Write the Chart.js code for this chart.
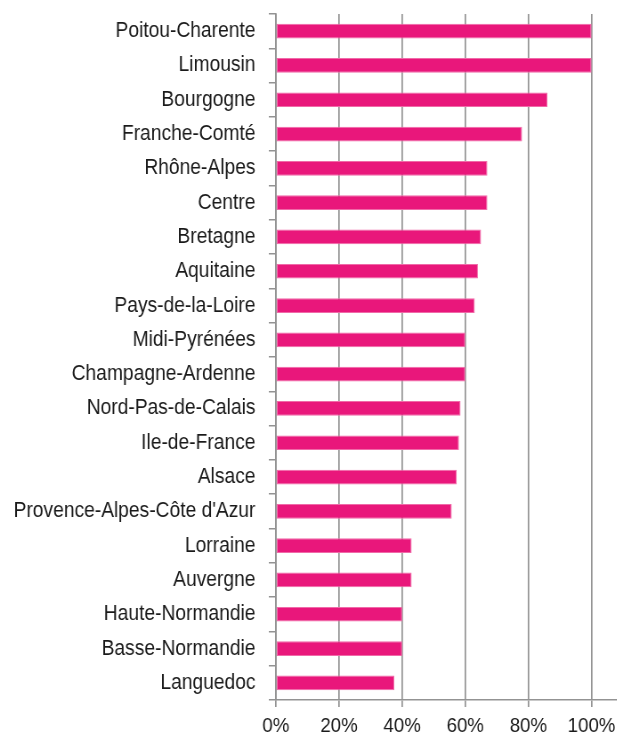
<!DOCTYPE html>
<html lang="fr">
<head>
    <meta charset="UTF-8">
    <title>Régions</title>
    <script src="https://cdn.jsdelivr.net/npm/chart.js"></script>
    <style>
        html, body {
            margin: 0;
            padding: 0;
            background: #fff;
            overflow: hidden;
        }
        #wrap {
            width: 617px;
            height: 737px;
            overflow: hidden;
        }
        /* the source chart was stretched vertically, so the canvas is drawn wider and squeezed back */
        #regionChart {
            transform: scaleX(0.89);
            transform-origin: 0 0;
        }
    </style>
</head>
<body>
    <div id="wrap">
        <canvas id="regionChart" width="693" height="737"></canvas>
    </div>

    <script>
        const regions = ['Poitou-Charente', 'Limousin', 'Bourgogne', 'Franche-Comté', 'Rhône-Alpes',
            'Centre', 'Bretagne', 'Aquitaine', 'Pays-de-la-Loire', 'Midi-Pyrénées',
            'Champagne-Ardenne', 'Nord-Pas-de-Calais', 'Ile-de-France', 'Alsace',
            "Provence-Alpes-Côte d'Azur", 'Lorraine', 'Auvergne', 'Haute-Normandie',
            'Basse-Normandie', 'Languedoc'];
        const shares = [100, 100, 86, 78, 67, 67, 65, 64, 63, 60, 60, 58.5, 58, 57.3, 55.7, 43, 43, 40, 40, 37.5];
        const xTicks = [0, 20, 40, 60, 80, 100];

        const gridGrey = '#939393';

        const ctx = document.getElementById('regionChart').getContext('2d');
        new Chart(ctx, {
            type: 'bar',
            data: {
                labels: regions,
                datasets: [{
                    data: shares,
                    backgroundColor: '#E9177B',
                    borderColor: '#F06AA8',
                    borderWidth: 1,
                    borderSkipped: false,
                    barPercentage: 0.43,
                    categoryPercentage: 1
                }]
            },
            options: {
                indexAxis: 'y',
                responsive: false,
                animation: false,
                layout: { padding: { top: 14, right: 0, bottom: 0, left: 0 } },
                plugins: {
                    legend: { display: false },
                    tooltip: { enabled: false }
                },
                scales: {
                    x: {
                        min: 0,
                        max: 108,
                        afterBuildTicks: (scale) => {
                            scale.ticks = xTicks.map(v => ({ value: v }));
                        },
                        afterFit: (scale) => {
                            scale.height = 37;
                            scale.paddingLeft = 0;
                            scale.paddingRight = 0;
                        },
                        grid: {
                            color: gridGrey,
                            lineWidth: 1.7,
                            tickLength: 7
                        },
                        border: { color: gridGrey, width: 1.5 },
                        ticks: {
                            padding: 7,
                            color: '#1a1a1a',
                            font: { family: 'Liberation Sans', size: 21 },
                            callback: (v) => v + '%'
                        }
                    },
                    y: {
                        afterFit: (scale) => {
                            scale.width = 310;
                            scale.paddingTop = 0;
                            scale.paddingBottom = 0;
                        },
                        grid: {
                            offset: true,
                            drawOnChartArea: false,
                            color: gridGrey,
                            lineWidth: 1.5,
                            tickLength: 8
                        },
                        border: { color: gridGrey, width: 1.7 },
                        ticks: {
                            padding: 15,
                            color: '#1a1a1a',
                            font: { family: 'Liberation Sans', size: 21.6 }
                        }
                    }
                }
            }
        });
    </script>
</body>
</html>
